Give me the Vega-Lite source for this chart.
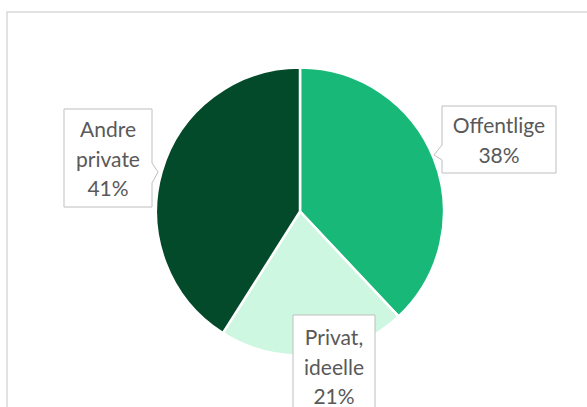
{
  "$schema": "https://vega.github.io/schema/vega-lite/v6.json",
  "autosize": {"type": "none"},
  "width": 586,
  "height": 399,
  "padding": {"left": 7, "top": 12, "right": 0, "bottom": 0},
  "background": "white",
  "config": {
    "view": {"stroke": "#D9D9D9", "strokeWidth": 1.5},
    "font": "Lato"
  },
  "data": {
    "values": [
      {"kategori": "Offentlige", "andel": 38, "nr": 1, "etikett": "Offentlige 38%"},
      {"kategori": "Privat, ideelle", "andel": 21, "nr": 2, "etikett": "Privat, ideelle 21%"},
      {"kategori": "Andre private", "andel": 41, "nr": 3, "etikett": "Andre private 41%"}
    ]
  },
  "resolve": {"scale": {"y": "independent"}},
  "layer": [
    {
      "mark": {"type": "arc", "outerRadius": 144, "stroke": "white", "strokeWidth": 2.5},
      "encoding": {
        "theta": {"field": "andel", "type": "quantitative", "stack": true},
        "order": {"field": "nr", "type": "quantitative"},
        "color": {
          "field": "kategori",
          "type": "nominal",
          "scale": {
            "domain": ["Offentlige", "Privat, ideelle", "Andre private"],
            "range": ["#18B978", "#CDF7E1", "#034A2A"]
          },
          "legend": null
        }
      }
    },
    {
      "mark": {"type": "point", "size": 4, "filled": true, "fill": "white", "stroke": "#BFBFBF", "strokeWidth": 1, "opacity": 1},
      "encoding": {
        "x": {"field": "andel", "type": "quantitative", "axis": null, "scale": {"domain": [21, 38, 41], "range": [327, 492, 101], "nice": false, "zero": false}},
        "y": {"field": "andel", "type": "quantitative", "axis": null, "scale": {"domain": [21, 38, 41], "range": [352, 127.5, 146], "nice": false, "zero": false}},
        "shape": {
          "field": "kategori",
          "type": "nominal",
          "scale": {
            "domain": ["Offentlige", "Privat, ideelle", "Andre private"],
            "range": [
              "M-57,-33.5H57V33.5H-57V20.5L-65,15.5L-57,5.5Z",
              "M-41,-49H41V49H-41Z",
              "M-44,-49H44V5L50,14L44,25V49H-44Z"
            ]
          },
          "legend": null
        }
      }
    },
    {
      "mark": {"type": "text", "lineBreak": " ", "lineHeight": 29.5, "fontSize": 21, "color": "#595959", "align": "center", "baseline": "alphabetic"},
      "encoding": {
        "x": {"field": "andel", "type": "quantitative"},
        "y": {"field": "andel", "type": "quantitative", "axis": null, "scale": {"domain": [21, 38, 41], "range": [333, 121, 125], "nice": false, "zero": false}},
        "text": {"field": "etikett", "type": "nominal"}
      }
    }
  ]
}
